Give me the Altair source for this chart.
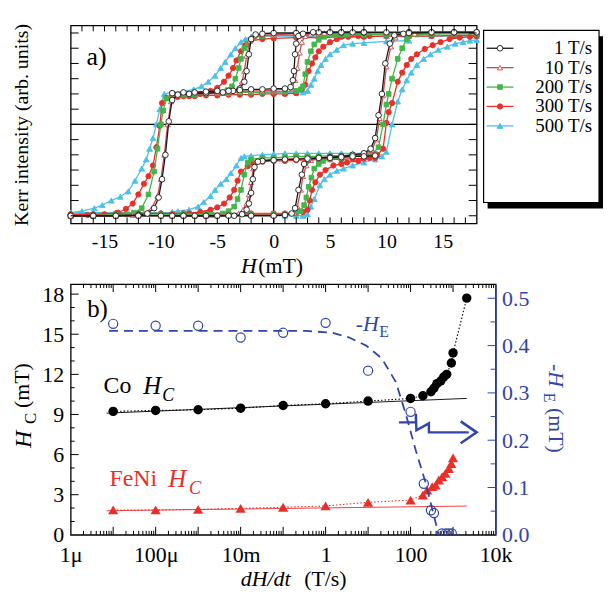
import altair as alt
import pandas as pd

FONT = "Liberation Serif, Times New Roman, DejaVu Serif, serif"
BLUE = "#3246a6"
RED = "#e8302a"

# ---------------- panel a : Kerr loops (H in mT, Kerr intensity arb.) ----------------
series_names = ["1 T/s", "10 T/s", "200 T/s", "300 T/s", "500 T/s"]
series_colors = ["#1a1a1a", "#cf4a4a", "#44b548", "#e8302a", "#4cc0e6"]
series_shapes = ["circle", "triangle-up", "square", "circle", "triangle-up"]
series_open = [True, True, False, False, False]
series_sizes = [32, 28, 22, 28, 34]

desc_1 = [(18,6.05),(16,6.05),(14,6.05),(12,6.05),(10,6.05),(8,6.05),(6,6.05),(4,6.05),(2,6.0),(0,6.0),(-1,5.95),(-1.6,5.9),(-2.0,5.6),(-2.2,4.6),(-2.4,3.5),(-2.6,2.8),(-3.0,2.35),(-3.6,2.2),(-4.5,2.1),(-6,2.05),(-7.5,2.0),(-8.5,1.95),(-9.0,1.6),(-9.3,0.2),(-9.6,-2.0),(-9.9,-3.6),(-10.2,-4.8),(-10.6,-5.5),(-11.2,-5.85),(-12,-5.95),(-14,-6.0),(-16,-6.0),(-18,-6.0)]
asc_1 = [(-18,-6.0),(-16,-6.0),(-14,-6.0),(-12,-6.0),(-10,-6.0),(-8,-6.0),(-6,-6.0),(-4,-6.0),(-2,-6.0),(0,-6.0),(1,-5.95),(1.6,-5.85),(1.9,-5.5),(2.2,-4.3),(2.5,-3.3),(2.7,-2.6),(3.1,-2.3),(4,-2.2),(5,-2.15),(6,-2.1),(7,-2.0),(8,-1.9),(8.6,-1.6),(9.0,-0.9),(9.3,0.6),(9.6,2.0),(9.9,4.0),(10.3,5.3),(10.7,5.85),(11.5,5.95),(12,6.0),(14,6.05),(16,6.05),(18,6.05)]
up_1 = [(-9,2.05),(-8,2.1),(-7,2.1),(-6,2.15),(-5,2.2),(-4,2.2),(-3,2.25),(-2,2.3),(-1,2.3),(0,2.35),(1,2.35),(1.5,2.45),(1.7,2.9),(1.8,3.5),(1.9,4.6),(2.0,5.3),(2.2,5.8),(2.6,5.95),(3.5,6.05),(5,6.05),(6,6.05),(7,6.05),(8,6.05)]
low_1 = [(9,-2.05),(8,-2.1),(7,-2.1),(6,-2.15),(5,-2.2),(4,-2.2),(3,-2.25),(2,-2.3),(1,-2.3),(0,-2.35),(-1,-2.4),(-1.4,-2.45),(-1.7,-2.8),(-1.85,-3.6),(-2.0,-4.5),(-2.2,-5.2),(-2.4,-5.6),(-2.8,-5.9),(-3.5,-6.0),(-5,-6.0),(-6,-6.0),(-7,-6.0),(-8,-6.0),(-9,-6.0)]

desc_10 = [(18,6.0),(16,6.0),(14,6.0),(12,6.0),(10,6.0),(8,6.0),(6,6.0),(4,5.95),(2,5.95),(0,5.9),(-1,5.85),(-1.7,5.8),(-2.1,5.5),(-2.4,4.5),(-2.6,3.5),(-2.8,2.8),(-3.2,2.3),(-3.8,2.15),(-4.5,2.05),(-6,2.0),(-7.5,1.95),(-8.5,1.9),(-9.1,1.5),(-9.4,0.0),(-9.7,-2.0),(-10.0,-3.6),(-10.3,-4.7),(-10.8,-5.5),(-11.5,-5.85),(-12.5,-5.95),(-14,-6.0),(-16,-6.0),(-18,-6.0)]
asc_10 = [(-18,-6.0),(-16,-6.0),(-14,-6.0),(-12,-6.0),(-10,-6.0),(-8,-6.0),(-6,-6.0),(-4,-5.95),(-2,-5.95),(0,-5.95),(1,-5.9),(1.8,-5.8),(2.1,-5.4),(2.4,-4.3),(2.6,-3.4),(2.9,-2.7),(3.3,-2.35),(4,-2.25),(5,-2.2),(6,-2.1),(7,-2.05),(8,-1.95),(8.7,-1.7),(9.1,-1.0),(9.4,0.4),(9.7,1.9),(10.0,3.8),(10.4,5.1),(10.8,5.7),(11.5,5.9),(12.5,5.95),(14,6.0),(16,6.0),(18,6.0)]
up_10 = [(-9,2.0),(-8,2.05),(-7,2.05),(-6,2.1),(-5,2.1),(-4,2.15),(-3,2.15),(-2,2.2),(-1,2.2),(0,2.25),(1,2.3),(1.6,2.4),(1.9,2.9),(2.1,3.7),(2.3,4.7),(2.5,5.4),(2.8,5.8),(3.3,5.95),(4.5,6.0),(6,6.0),(8,6.0)]
low_10 = [(9,-2.0),(8,-2.05),(7,-2.1),(6,-2.1),(5,-2.15),(4,-2.2),(3,-2.2),(2,-2.25),(1,-2.3),(0,-2.3),(-1,-2.35),(-1.5,-2.45),(-1.8,-2.9),(-2.0,-3.8),(-2.2,-4.6),(-2.4,-5.2),(-2.7,-5.6),(-3.1,-5.85),(-4,-5.95),(-5,-6.0),(-7,-6.0),(-9,-6.0)]

desc_200 = [(18,5.95),(16,5.95),(14,5.95),(12,5.95),(10,5.9),(8,5.9),(6,5.9),(4,5.9),(2,5.85),(0,5.85),(-1,5.8),(-1.8,5.7),(-2.3,5.3),(-2.6,5.0),(-2.9,4.3),(-3.1,3.7),(-3.4,3.0),(-3.7,2.5),(-4.1,2.25),(-4.8,2.1),(-6,2.0),(-7,1.95),(-8,1.95),(-9,1.9),(-9.5,1.7),(-9.8,0.9),(-10.0,0.0),(-10.3,-1.6),(-10.6,-3.1),(-11.1,-4.6),(-11.7,-5.5),(-12.4,-5.8),(-13,-5.9),(-14,-5.95),(-16,-6.0),(-18,-6.0)]
asc_200 = [(-18,-6.0),(-16,-6.0),(-14,-5.95),(-12,-5.95),(-10,-5.95),(-8,-5.9),(-6,-5.9),(-4,-5.9),(-2,-5.9),(0,-5.9),(1,-5.9),(2,-5.85),(2.4,-5.7),(2.7,-5.3),(2.9,-4.8),(3.1,-4.1),(3.35,-3.5),(3.6,-2.9),(4.0,-2.6),(4.4,-2.4),(5,-2.3),(6,-2.2),(7,-2.1),(8,-2.0),(8.8,-1.9),(9.3,-1.5),(9.7,0.0),(10.0,1.3),(10.2,2.0),(10.5,3.0),(11.0,4.3),(11.4,5.0),(11.8,5.6),(12.7,5.9),(14,5.95),(16,6.0),(18,6.0)]
up_200 = [(-9,1.95),(-8,2.0),(-7,2.0),(-6,2.05),(-5,2.05),(-4,2.05),(-3,2.1),(-2,2.1),(-1,2.1),(0,2.15),(1,2.15),(2,2.2),(2.4,2.3),(2.6,2.5),(2.8,3.3),(3.0,4.1),(3.3,4.8),(3.6,5.25),(4.0,5.55),(4.5,5.75),(5.5,5.85),(6.5,5.9),(8,5.9)]
low_200 = [(9,-1.95),(8,-2.0),(7,-2.0),(6,-2.05),(5,-2.05),(4,-2.1),(3,-2.1),(2,-2.1),(1,-2.15),(0,-2.2),(-1,-2.2),(-2,-2.3),(-2.3,-2.5),(-2.6,-3.3),(-2.9,-4.3),(-3.2,-4.9),(-3.5,-5.4),(-4.0,-5.7),(-4.5,-5.85),(-5.5,-5.95),(-7,-6.0),(-9,-6.0)]

desc_300 = [(18,5.85),(16,5.85),(14,5.8),(12,5.8),(10,5.8),(8,5.75),(6,5.75),(4,5.7),(2,5.7),(0,5.65),(-1,5.6),(-2,5.5),(-2.5,5.2),(-2.9,4.8),(-3.3,4.2),(-3.6,3.7),(-4.0,3.2),(-4.4,2.8),(-5.0,2.4),(-5.6,2.2),(-6.5,2.0),(-7.5,1.85),(-8.5,1.8),(-9.5,1.75),(-9.9,1.4),(-10.1,-0.1),(-10.4,-1.5),(-10.7,-2.7),(-11.1,-3.4),(-11.5,-3.9),(-12.0,-4.6),(-12.5,-5.2),(-13.1,-5.55),(-13.8,-5.8),(-15,-5.9),(-16.5,-5.95),(-18,-5.95)]
asc_300 = [(-18,-5.9),(-16,-5.9),(-14,-5.85),(-12,-5.85),(-10,-5.85),(-8,-5.85),(-6,-5.85),(-4,-5.85),(-2,-5.85),(0,-5.85),(1,-5.85),(2,-5.8),(2.6,-5.75),(3.0,-5.6),(3.2,-5.0),(3.4,-4.3),(3.7,-3.8),(4.1,-3.3),(4.6,-3.0),(5.3,-2.7),(6.0,-2.6),(6.5,-2.5),(7.5,-2.4),(8.5,-2.2),(9.2,-2.0),(9.7,-1.6),(10.0,0.1),(10.2,0.8),(10.5,1.4),(11.0,2.8),(11.4,3.4),(11.8,3.9),(12.2,4.3),(12.7,4.6),(13.4,4.95),(14.1,5.2),(14.8,5.4),(15.6,5.6),(16.5,5.7),(17.4,5.75),(18,5.8)]
up_300 = [(-9,1.8),(-8,1.85),(-7,1.85),(-6,1.9),(-5,1.9),(-4,1.95),(-3,1.95),(-2,1.95),(-1,2.0),(0,2.0),(1,2.0),(2,2.05),(2.5,2.3),(2.8,2.6),(3.1,3.5),(3.4,4.0),(3.7,4.4),(4.0,4.8),(4.4,5.1),(5.0,5.4),(5.6,5.6),(6.6,5.75),(7.5,5.8),(8.5,5.8)]
low_300 = [(9,-2.2),(8,-2.25),(7,-2.25),(6,-2.3),(5,-2.3),(4,-2.3),(3,-2.35),(2,-2.35),(1,-2.4),(0,-2.4),(-1,-2.45),(-1.8,-2.55),(-2.3,-2.75),(-2.9,-3.1),(-3.2,-3.7),(-3.5,-4.3),(-3.9,-4.8),(-4.4,-5.2),(-5.0,-5.45),(-5.6,-5.6),(-6.5,-5.75),(-7.5,-5.85),(-9,-5.9)]

desc_500 = [(18,5.8),(16,5.8),(14,5.8),(12,5.8),(10,5.8),(8,5.8),(6,5.8),(4,5.8),(2,5.8),(0,5.8),(-1,5.8),(-2,5.75),(-2.5,5.6),(-2.9,5.4),(-3.4,5.0),(-3.8,4.6),(-4.3,4.1),(-4.7,3.7),(-5.2,3.2),(-5.8,2.8),(-6.4,2.5),(-7.1,2.3),(-8,2.15),(-9,2.1),(-9.7,2.0),(-10.1,1.0),(-10.4,0.0),(-10.7,-0.9),(-11.0,-1.6),(-11.3,-2.3),(-11.7,-2.9),(-12.3,-3.7),(-12.9,-4.4),(-13.6,-4.75),(-14.4,-5.0),(-15.2,-5.3),(-15.9,-5.5),(-17,-5.7),(-18,-5.8)]
asc_500 = [(-18,-5.8),(-16,-5.8),(-14,-5.8),(-12,-5.8),(-10,-5.8),(-8,-5.8),(-6,-5.85),(-4,-5.85),(-2,-5.9),(0,-5.95),(1,-6.0),(2,-6.0),(2.6,-6.0),(3.0,-5.9),(3.3,-5.4),(3.6,-4.9),(4.1,-4.0),(4.5,-3.6),(5.0,-3.3),(5.6,-3.05),(6.2,-2.9),(7,-2.7),(8,-2.5),(9,-2.3),(9.6,-2.1),(10.0,-1.8),(10.5,0.0),(11.0,1.5),(11.4,2.3),(11.8,2.9),(12.2,3.4),(12.7,3.9),(13.3,4.3),(13.9,4.6),(14.6,4.9),(15.4,5.1),(16.1,5.3),(16.8,5.4),(17.4,5.5),(18,5.55)]
up_500 = [(-9,2.1),(-8,2.1),(-7,2.1),(-6,2.1),(-5,2.1),(-4,2.1),(-3,2.1),(-2,2.1),(-1,2.1),(0,2.1),(1,2.1),(2,2.1),(2.6,2.1),(3.0,2.2),(3.3,2.6),(3.6,3.0),(3.9,3.5),(4.2,3.9),(4.6,4.3),(5.0,4.6),(5.6,4.9),(6.2,5.2),(7,5.3),(8,5.35),(10,5.45),(12,5.5)]
low_500 = [(9,-1.9),(8,-1.9),(7,-1.9),(6,-1.9),(5,-1.9),(4,-1.9),(3,-1.9),(2,-1.9),(1,-1.9),(0,-1.95),(-1,-2.0),(-2,-2.05),(-2.6,-2.1),(-2.9,-2.2),(-3.3,-2.7),(-3.8,-3.2),(-4.2,-3.6),(-4.7,-3.9),(-5.2,-4.3),(-5.6,-4.7),(-6.2,-5.1),(-6.7,-5.4),(-7.5,-5.6),(-8.5,-5.7),(-9,-5.75)]

branches = {
    "1 T/s": [desc_1, asc_1, up_1, low_1],
    "10 T/s": [desc_10, asc_10, up_10, low_10],
    "200 T/s": [desc_200, asc_200, up_200, low_200],
    "300 T/s": [desc_300, asc_300, up_300, low_300],
    "500 T/s": [desc_500, asc_500, up_500, low_500],
}
h_ticks_a = list(range(-17, 18))
k_ticks_a = list(range(-6, 7))
h_labels_a = [-15, -10, -5, 0, 5, 10, 15]

# ---------------- panel b : coercivity & exchange bias vs sweep rate ----------------
rate_co = [1e-5, 1e-4, 1e-3, 1e-2, 1e-1, 1, 10, 100, 195, 302, 355, 417, 513, 603, 708, 912, 1000, 2100]
hc_co = [9.23, 9.3, 9.35, 9.47, 9.67, 9.8, 10.0, 10.2, 10.4, 10.7, 10.96, 11.3, 11.5, 11.8, 12.0, 12.85, 13.6, 17.7]
rate_feni = [1e-5, 1e-4, 1e-3, 1e-2, 1e-1, 1, 10, 100, 195, 245, 323, 388, 462, 553, 658, 794, 912, 1000]
hc_feni = [1.86, 1.86, 1.9, 1.98, 2.06, 2.16, 2.43, 2.6, 2.98, 3.35, 3.6, 3.72, 4.1, 4.34, 4.6, 4.96, 5.33, 5.75]
rate_he = [1e-5, 1e-4, 1e-3, 1e-2, 1e-1, 1, 10, 100, 205, 302, 355, 543, 676, 794, 933]
he_vals = [0.446, 0.442, 0.442, 0.417, 0.427, 0.448, 0.347, 0.26, 0.108, 0.052, 0.046, 0.003, 0.003, 0.003, 0.003]
he_guide_rate = [8e-6, 1e-3, 0.35, 1.45, 3.6, 9, 21, 45, 78, 134, 230, 354, 463]
he_guide = [0.431, 0.431, 0.431, 0.427, 0.417, 0.40, 0.373, 0.323, 0.254, 0.177, 0.108, 0.04, 0.0]
fit_rate = [7e-6, 2100]
fit_co = [9.1, 10.2]
fit_feni = [1.8, 2.15]
arrow_rate = [53.5, 133.6, 133.6, 137, 270, 270, 2333]
arrow_he = [0.2377, 0.2377, 0.2560, 0.2208, 0.2356, 0.2166, 0.2166]
head_rate = [1514, 3589, 1514]
head_he = [0.2398, 0.2166, 0.1935]
x_labels_b = [1e-6, 1e-4, 1e-2, 1, 100, 1e4]
hc_labels = [0, 3, 6, 9, 12, 15, 18]
he_labels = [0.0, 0.1, 0.2, 0.3, 0.4, 0.5]

DUMMY = pd.DataFrame({"d": [0]})


def txt(s, x, y, size=20, italic=False, color="black", angle=0, align="center"):
    kw = dict(text=s, fontSize=size, font=FONT, fontStyle="italic" if italic else "normal",
              color=color, align=align, baseline="middle")
    if angle:
        kw["angle"] = angle
    return alt.Chart(DUMMY).mark_text(**kw).encode(x=alt.value(x), y=alt.value(y))


# ================= panel a =================
WA, HA = 408, 199
AXA = alt.Axis(values=h_labels_a, ticks=False, tickSize=0, domain=False, grid=False,
               labelFont=FONT, labelFontSize=20, labelPadding=8, labelColor="black",
               labelFlush=False, labelOverlap=False, title=None,
               labelExpr="datum.value < 0 ? '-' + abs(datum.value) : '' + datum.value")
XA = alt.X("H:Q", scale=alt.Scale(domain=[-18, 18], nice=False, zero=False), axis=AXA)
YA = alt.Y("y:Q", scale=alt.Scale(domain=[-6.5, 6.5], nice=False, zero=False), axis=None)

layers_a = []
layers_a.append(alt.Chart(pd.DataFrame({"y": [0]})).mark_rule(color="black", strokeWidth=1.4).encode(y=YA))
layers_a.append(alt.Chart(pd.DataFrame({"H": [0]})).mark_rule(color="black", strokeWidth=1.4).encode(x=XA))

for k in [4, 3, 2, 1, 0]:
    name = series_names[k]
    rows = []
    for bi, br in enumerate(branches[name]):
        for i, (h, v) in enumerate(br):
            rows.append({"b": bi, "i": i, "H": h, "y": v})
    df = pd.DataFrame(rows)
    col = series_colors[k]
    layers_a.append(alt.Chart(df).mark_line(color=col, strokeWidth=1.3).encode(
        x=XA, y=YA, detail="b:N", order="i:Q"))
    layers_a.append(alt.Chart(df).mark_point(
        shape=series_shapes[k], filled=True, fill="white" if series_open[k] else col,
        stroke=col, strokeWidth=0.9, size=series_sizes[k], opacity=1).encode(x=XA, y=YA))

tdf = pd.DataFrame({"H": h_ticks_a})
layers_a.append(alt.Chart(tdf).mark_rule(color="black", strokeWidth=1).encode(x=XA, y=alt.value(0), y2=alt.value(6)))
layers_a.append(alt.Chart(tdf).mark_rule(color="black", strokeWidth=1).encode(x=XA, y=alt.value(HA - 6), y2=alt.value(HA)))
kdf = pd.DataFrame({"y": k_ticks_a})
layers_a.append(alt.Chart(kdf).mark_rule(color="black", strokeWidth=1).encode(y=YA, x=alt.value(0), x2=alt.value(8)))
layers_a.append(alt.Chart(kdf).mark_rule(color="black", strokeWidth=1).encode(y=YA, x=alt.value(WA - 8), x2=alt.value(WA)))

layers_a.append(txt("a)", 26, 32, size=26))
layers_a.append(txt("Kerr intensity (arb. units)", -49, 100, size=20, angle=270))
layers_a.append(txt("H", 179, 242, size=22, italic=True))
layers_a.append(txt("(mT)", 211, 242, size=22))

# legend box with drop shadow
layers_a.append(alt.Chart(DUMMY).mark_rect(color="black").encode(
    x=alt.value(419), x2=alt.value(535), y=alt.value(11), y2=alt.value(184)))
layers_a.append(alt.Chart(DUMMY).mark_rect(fill="white", stroke="black", strokeWidth=1.2).encode(
    x=alt.value(415), x2=alt.value(531), y=alt.value(5), y2=alt.value(178)))
for k, name in enumerate(series_names):
    ly = 23 + 19.5 * k
    col = series_colors[k]
    layers_a.append(alt.Chart(DUMMY).mark_rule(color=col, strokeWidth=1.3).encode(
        x=alt.value(418), x2=alt.value(445), y=alt.value(ly)))
    layers_a.append(alt.Chart(DUMMY).mark_point(
        shape=series_shapes[k], filled=True, fill="white" if series_open[k] else col,
        stroke=col, strokeWidth=0.9, size=series_sizes[k], opacity=1).encode(
        x=alt.value(431.5), y=alt.value(ly)))
    layers_a.append(txt(name, 524, ly, size=19, align="right"))

panel_a = alt.layer(*layers_a).properties(width=WA, height=HA)

# ================= panel b =================
WB, HB = 427, 252
AXB = alt.Axis(values=x_labels_b, ticks=False, tickSize=0, domain=False, grid=False,
               labelFont=FONT, labelFontSize=22, labelPadding=10, labelColor="black",
               labelFlush=False, labelOverlap=False, title=None,
               labelExpr="datum.value < 1e-5 ? '1\u03bc' : datum.value < 1e-3 ? '100\u03bc' : datum.value < 0.1 ? '10m' : datum.value < 10 ? '1' : datum.value < 1000 ? '100' : '10k'")
XB = alt.X("x:Q", scale=alt.Scale(type="log", domain=[1e-6, 1e4], nice=False), axis=AXB)
AXBL = alt.Axis(values=hc_labels, ticks=False, tickSize=0, domain=False, grid=False,
                labelFont=FONT, labelFontSize=22, labelPadding=7, labelColor="black",
                labelFlush=False, labelOverlap=False, title=None, format="d")
YBL = alt.Y("y:Q", scale=alt.Scale(domain=[0, 18.75], nice=False, zero=False), axis=AXBL)
AXBR = alt.Axis(orient="right", values=he_labels, ticks=False, tickSize=0, domain=True,
                domainColor=BLUE, domainWidth=1.6, grid=False,
                labelFont=FONT, labelFontSize=22, labelPadding=6, labelColor=BLUE,
                labelFlush=False, labelOverlap=False, title=None, format=".1f")
YBR = alt.Y("y:Q", scale=alt.Scale(domain=[0, 0.53], nice=False, zero=False), axis=AXBR)

left = []
left.append(alt.Chart(pd.DataFrame({"x": fit_rate, "y": fit_co})).mark_line(color="black", strokeWidth=0.9).encode(x=XB, y=YBL))
left.append(alt.Chart(pd.DataFrame({"x": rate_co, "y": hc_co})).mark_line(color="black", strokeWidth=1.1, strokeDash=[1.5, 2]).encode(x=XB, y=YBL))
left.append(alt.Chart(pd.DataFrame({"x": fit_rate, "y": fit_feni})).mark_line(color=RED, strokeWidth=0.9).encode(x=XB, y=YBL))
left.append(alt.Chart(pd.DataFrame({"x": rate_feni, "y": hc_feni})).mark_line(color=RED, strokeWidth=1.1, strokeDash=[1.5, 2]).encode(x=XB, y=YBL))
left.append(alt.Chart(pd.DataFrame({"x": rate_co, "y": hc_co})).mark_point(shape="circle", filled=True, color="black", size=90, opacity=1).encode(x=XB, y=YBL))
left.append(alt.Chart(pd.DataFrame({"x": rate_feni, "y": hc_feni})).mark_point(shape="triangle-up", filled=True, color=RED, size=105, opacity=1).encode(x=XB, y=YBL))

maj = [10.0 ** e for e in range(-5, 4)]
mnr = [m * 10.0 ** e for e in range(-6, 4) for m in range(2, 10)]
for vals, ln in ((maj, 8), (mnr, 4)):
    d = pd.DataFrame({"x": vals})
    left.append(alt.Chart(d).mark_rule(color="black", strokeWidth=1).encode(x=XB, y=alt.value(0), y2=alt.value(ln)))
    left.append(alt.Chart(d).mark_rule(color="black", strokeWidth=1).encode(x=XB, y=alt.value(HB - ln), y2=alt.value(HB)))
for vals, ln in (([3, 6, 9, 12, 15, 18], 8), ([1, 2, 4, 5, 7, 8, 10, 11, 13, 14, 16, 17], 4)):
    d = pd.DataFrame({"y": vals})
    left.append(alt.Chart(d).mark_rule(color="black", strokeWidth=1).encode(y=YBL, x=alt.value(0), x2=alt.value(ln)))

left.append(txt("b)", 27, 25, size=25))
left.append(txt("Co", 47, 102, size=24))
left.append(txt("H", 82, 102, size=25, italic=True))
left.append(txt("C", 98, 113, size=18, italic=True))
left.append(txt("FeNi", 63, 196, size=24, color=RED))
left.append(txt("H", 107, 196, size=25, italic=True, color=RED))
left.append(txt("C", 125, 206, size=18, italic=True, color=RED))
left.append(txt("-H", 298, 40, size=22, italic=True, color=BLUE))
left.append(txt("E", 315, 48, size=16, color=BLUE))
left.append(txt("H", -47, 156, size=24, italic=True, angle=270))
left.append(txt("C", -40, 135, size=17, angle=270))
left.append(txt("(mT)", -49, 102, size=22, angle=270))
left.append(txt("dH/dt", 196, 296, size=22, italic=True))
left.append(txt("(T/s)", 256, 296, size=22))
left.append(txt("-H", 488, 92, size=22, italic=True, color=BLUE, angle=90))
left.append(txt("E", 481, 114, size=16, color=BLUE, angle=90))
left.append(txt("(mT)", 488, 147, size=22, color=BLUE, angle=90))

right = []
right.append(alt.Chart(pd.DataFrame({"x": he_guide_rate, "y": he_guide})).mark_line(color=BLUE, strokeWidth=1.8, strokeDash=[9, 6]).encode(x=XB, y=YBR))
right.append(alt.Chart(pd.DataFrame({"x": rate_he, "y": he_vals})).mark_point(shape="circle", filled=False, color=BLUE, strokeWidth=1.2, size=85, opacity=1, clip=True).encode(x=XB, y=YBR))
for vals, ln in (([0.1, 0.2, 0.3, 0.4, 0.5], 8), ([0.05, 0.15, 0.25, 0.35, 0.45], 5)):
    d = pd.DataFrame({"y": vals})
    right.append(alt.Chart(d).mark_rule(color=BLUE, strokeWidth=1).encode(y=YBR, x=alt.value(WB - ln), x2=alt.value(WB)))
adf = pd.DataFrame({"x": arrow_rate, "y": arrow_he, "i": list(range(len(arrow_rate)))})
right.append(alt.Chart(adf).mark_line(color=BLUE, strokeWidth=2.4).encode(x=XB, y=YBR, order="i:Q"))
hdf = pd.DataFrame({"x": head_rate, "y": head_he, "i": [0, 1, 2]})
right.append(alt.Chart(hdf).mark_line(color=BLUE, strokeWidth=2.6).encode(x=XB, y=YBR, order="i:Q"))

panel_b = alt.layer(alt.layer(*left), alt.layer(*right)).resolve_scale(y="independent").properties(width=WB, height=HB)

chart = alt.vconcat(panel_a, panel_b, spacing=4).properties(
    padding={"left": 2, "top": 13, "right": 0, "bottom": 0}
).configure_view(stroke="black", strokeWidth=1.3)

chart.save("out.html", embed_options={"renderer": "svg", "actions": False})
